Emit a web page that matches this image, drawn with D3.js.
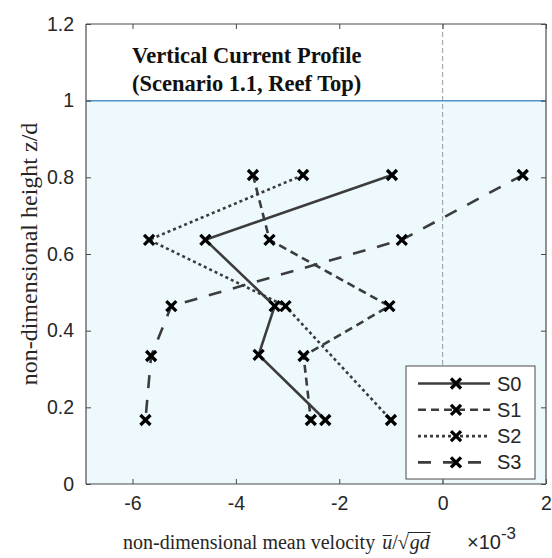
<!DOCTYPE html>
<html>
<head>
<meta charset="utf-8">
<script src="https://cdn.jsdelivr.net/npm/d3@7"></script>
<style>
  body { margin: 0; background: #fff; }
  svg { display: block; }
</style>
</head>
<body>
<svg id="chart" width="552" height="558"></svg>
<script>
// Depth levels z/d and mean velocity (×10^-3) per scenario
const seriesNames = ["S0", "S1", "S2", "S3"];
const s0 = [[-0.98, 0.806], [-4.59, 0.637], [-3.25, 0.464], [-3.56, 0.337], [-2.27, 0.167]];
const s1 = [[-3.67, 0.806], [-3.35, 0.637], [-1.03, 0.464], [-2.69, 0.334], [-2.55, 0.167]];
const s2 = [[-2.70, 0.806], [-5.68, 0.637], [-3.04, 0.464], [-1.00, 0.167]];
const s3 = [[1.55, 0.806], [-0.79, 0.637], [-5.25, 0.464], [-5.64, 0.334], [-5.75, 0.167]];
const xTicks = [-6, -4, -2, 0, 2];
const yTicks = [0, 0.2, 0.4, 0.6, 0.8, 1, 1.2];
const waterLevel = 1;

const allSeries = [s0, s1, s2, s3];
const dashes = [null, "8,5", "3,3", "13,12"];

const svg = d3.select("#chart");
const L = 86, R = 546, T = 24, B = 484;
const x = d3.scaleLinear().domain([-6.9, 2]).range([L, R]);
const y = d3.scaleLinear().domain([0, 1.2]).range([B, T]);

const axisColor = "#4a4a4a";
const textColor = "#262626";
const lineColor = "#3c3c3c";
const sans = "'Liberation Sans', Arial, sans-serif";
const serif = "'Liberation Serif', 'Times New Roman', serif";

// Water column shading below the free surface
svg.append("rect")
  .attr("x", L).attr("y", y(waterLevel))
  .attr("width", R - L).attr("height", y(0) - y(waterLevel))
  .attr("fill", "#edf9fd");

// Zero-velocity reference line
svg.append("line")
  .attr("x1", x(0)).attr("x2", x(0))
  .attr("y1", T).attr("y2", B)
  .attr("stroke", "#9a9a9a").attr("stroke-width", 1)
  .attr("stroke-dasharray", "5,3");

// Free surface
svg.append("line")
  .attr("x1", L).attr("x2", R)
  .attr("y1", y(waterLevel)).attr("y2", y(waterLevel))
  .attr("stroke", "#4f94c9").attr("stroke-width", 1.5);

// Axes (ticks inward, box on)
const tickLen = 5;
const fmt = d => String(+(+d).toFixed(1));
const xb = svg.append("g").attr("transform", `translate(0,${B})`)
  .call(d3.axisBottom(x).tickValues(xTicks).tickSize(-tickLen).tickPadding(12).tickFormat(fmt));
const xt = svg.append("g").attr("transform", `translate(0,${T})`)
  .call(d3.axisTop(x).tickValues(xTicks).tickSize(-tickLen).tickFormat(""));
const yl = svg.append("g").attr("transform", `translate(${L},0)`)
  .call(d3.axisLeft(y).tickValues(yTicks).tickSize(-tickLen).tickPadding(12).tickFormat(fmt));
const yr = svg.append("g").attr("transform", `translate(${R},0)`)
  .call(d3.axisRight(y).tickValues(yTicks).tickSize(-tickLen).tickFormat(""));

[xb, xt, yl, yr].forEach(g => {
  g.select(".domain").attr("stroke", axisColor).attr("stroke-width", 1.2);
  g.selectAll(".tick line").attr("stroke", axisColor).attr("stroke-width", 1);
  g.selectAll(".tick text")
    .attr("fill", textColor)
    .style("font-family", sans)
    .style("font-size", "19.5px");
});
xb.select(".domain").attr("d", `M${L},0H${R}`);
xt.select(".domain").attr("d", `M${L},0H${R}`);
yl.select(".domain").attr("d", `M0,${T}V${B}`);
yr.select(".domain").attr("d", `M0,${T}V${B}`);
xb.selectAll(".tick text").attr("dy", "0.71em");

// Profiles
const line = d3.line().x(d => x(d[0])).y(d => y(d[1]));
const marker = (sel, cx, cy, s) => {
  sel.append("path")
    .attr("d", `M${cx - s},${cy - s}L${cx + s},${cy + s}M${cx - s},${cy + s}L${cx + s},${cy - s}`)
    .attr("stroke", "#000").attr("stroke-width", 3.3).attr("fill", "none");
};

const plot = svg.append("g");
allSeries.forEach((data, i) => {
  plot.append("path")
    .datum(data)
    .attr("d", line)
    .attr("fill", "none")
    .attr("stroke", lineColor)
    .attr("stroke-width", 2.6)
    .attr("stroke-dasharray", dashes[i]);
});
allSeries.forEach(data => {
  data.forEach(d => marker(plot, x(d[0]), y(d[1]), 5));
});

// Title
const title = svg.append("text")
  .attr("fill", "#111")
  .style("font-family", serif)
  .style("font-size", "22.5px").style("font-weight", "bold");
title.append("tspan").attr("x", 132).attr("y", 63).text("Vertical Current Profile");
title.append("tspan").attr("x", 132).attr("y", 91).text("(Scenario 1.1, Reef Top)");

// Legend
const lg = svg.append("g");
const lgX = 406, lgY = 366, lgW = 129, lgH = 113;
lg.append("rect").attr("x", lgX).attr("y", lgY).attr("width", lgW).attr("height", lgH)
  .attr("fill", "#fff").attr("stroke", "#4a4a4a").attr("stroke-width", 1);
seriesNames.forEach((name, i) => {
  const cy = 383.5 + i * 26.3;
  lg.append("line")
    .attr("x1", 418).attr("x2", 490).attr("y1", cy).attr("y2", cy)
    .attr("stroke", lineColor).attr("stroke-width", 2.6)
    .attr("stroke-dasharray", dashes[i]);
  marker(lg, 456, cy, 5);
  lg.append("text").attr("x", 497).attr("y", cy).attr("dy", "0.35em")
    .attr("fill", textColor)
    .style("font-family", sans)
    .style("font-size", "20px").text(name);
});

// Y label
svg.append("text")
  .attr("transform", `translate(37,254) rotate(-90)`)
  .attr("text-anchor", "middle")
  .attr("fill", textColor)
  .style("font-family", serif)
  .style("font-size", "24px")
  .text("non-dimensional height z/d");

// X label with math expression
const xl = svg.append("g").attr("fill", textColor);
const xlY = 549, xlSize = "20px";
const x0 = 123;
const t1 = xl.append("text").attr("x", x0).attr("y", xlY)
  .style("font-family", serif).style("font-size", xlSize)
  .text("non-dimensional mean velocity");
const w1 = t1.node().getComputedTextLength() + 7;
const tu = xl.append("text").attr("x", x0 + w1).attr("y", xlY)
  .style("font-family", serif).style("font-size", xlSize).style("font-style", "italic").text("u");
const wu = tu.node().getComputedTextLength();
const ts = xl.append("text").attr("x", x0 + w1 + wu).attr("y", xlY)
  .style("font-family", serif).style("font-size", xlSize).text("/\u221A");
const wsl = ts.node().getComputedTextLength();
const tg = xl.append("text").attr("x", x0 + w1 + wu + wsl + 1).attr("y", xlY)
  .style("font-family", serif).style("font-size", xlSize).style("font-style", "italic").text("gd");
const wg = tg.node().getComputedTextLength();
// overbars
xl.append("line").attr("x1", x0 + w1 + 0.5).attr("x2", x0 + w1 + wu - 0.5)
  .attr("y1", xlY - 13.5).attr("y2", xlY - 13.5).attr("stroke", textColor).attr("stroke-width", 1);
xl.append("line").attr("x1", x0 + w1 + wu + wsl - 1).attr("x2", x0 + w1 + wu + wsl + wg + 2)
  .attr("y1", xlY - 16.5).attr("y2", xlY - 16.5).attr("stroke", textColor).attr("stroke-width", 1);

// Exponent multiplier
const ex = svg.append("text").attr("x", 467).attr("y", 549)
  .attr("fill", textColor)
  .style("font-family", sans)
  .style("font-size", "20px");
ex.append("tspan").text("\u00D710");
ex.append("tspan").attr("dy", -10).style("font-size", "17px").text("-3");
</script>
</body>
</html>
